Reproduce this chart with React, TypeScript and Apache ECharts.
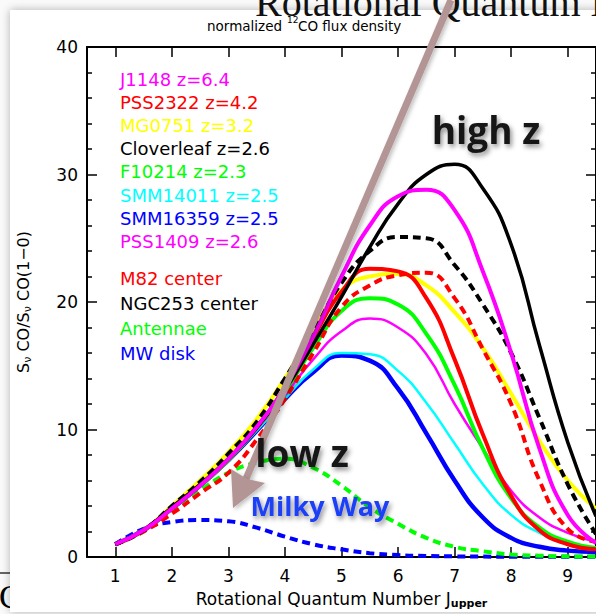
import React, { useEffect, useRef } from "react";
import * as echarts from "echarts";

// Rotational quantum number samples (J_upper)
const J = [1, 1.5, 2, 2.5, 3, 3.5, 4, 4.5, 5, 5.5, 6, 6.5, 7, 7.5, 8, 8.5, 9, 9.5];

// normalized CO flux density S_v CO / S_v CO(1-0)
const J1148 = [1, 2.1, 3.8, 5.6, 7.7, 10.2, 13.3, 17.3, 22.0, 26.0, 28.3, 28.8, 27.2, 22.4, 16.0, 8.5, 3.3, 1.1];
const PSS2322 = [1, 2.1, 3.8, 5.6, 7.7, 10.2, 13.3, 17.2, 20.8, 22.6, 22.4, 20.3, 15.5, 9.6, 4.8, 2.1, 1.0, 0.6];
const MG0751 = [1, 2.1, 4.0, 6.0, 8.2, 10.8, 14.0, 17.8, 20.9, 22.0, 22.2, 21.3, 19.2, 16.4, 12.8, 9.1, 6.0, 3.8];
const Cloverleaf = [1, 2.1, 3.9, 5.7, 7.7, 10.1, 13.1, 16.7, 20.4, 24.3, 27.7, 30.0, 30.8, 28.9, 24.5, 16.6, 9.0, 3.2];
const F10214 = [1, 2.1, 3.8, 5.6, 7.6, 10.1, 13.0, 16.4, 19.3, 20.3, 19.8, 17.5, 13.5, 8.5, 4.6, 2.3, 1.2, 0.7];
const SMM14011 = [1, 2.1, 3.8, 5.6, 7.6, 9.9, 12.4, 14.7, 16.0, 15.9, 14.6, 12.1, 8.9, 5.7, 3.3, 1.9, 1.1, 0.7];
const SMM16359 = [1, 2.1, 3.8, 5.6, 7.6, 9.9, 12.4, 14.5, 15.8, 15.4, 13.2, 9.7, 6.0, 3.1, 1.5, 0.8, 0.5, 0.4];
const PSS1409 = [1, 2.1, 3.8, 5.6, 7.6, 10.0, 12.7, 15.5, 17.7, 18.7, 18.0, 15.9, 12.0, 8.5, 5.2, 3.1, 1.9, 1.2];
const M82 = [1, 2.0, 3.4, 5.0, 6.6, 9.2, 12.4, 16.0, 19.6, 21.3, 22.1, 22.3, 20.3, 16.3, 12.0, 6.0, 2.2, 1.2];
const NGC253 = [1, 2.1, 4.0, 5.9, 8.1, 10.6, 14.0, 17.6, 21.5, 24.0, 25.1, 25.0, 22.9, 19.8, 16.0, 10.9, 5.7, 1.8];
const Antennae = [1, 2.0, 3.6, 5.2, 6.6, 7.4, 7.7, 7.0, 5.6, 3.9, 2.6, 1.5, 0.8, 0.45, 0.2, 0.1, 0.05, 0.03];
const MWdisk = [1, 2.2, 2.75, 2.9, 2.8, 2.3, 1.6, 1.0, 0.6, 0.3, 0.15, 0.08, 0.05, 0.03, 0.02, 0.01, 0.01, 0.01];

const xTicks = [1, 2, 3, 4, 5, 6, 7, 8, 9];

const highZLabels = [
  "J1148 z=6.4",
  "PSS2322 z=4.2",
  "MG0751 z=3.2",
  "Cloverleaf z=2.6",
  "F10214 z=2.3",
  "SMM14011 z=2.5",
  "SMM16359 z=2.5",
  "PSS1409 z=2.6",
];
const highZColors = ["#ff00ff", "#ff0000", "#ffff00", "#000000", "#00ff00", "#00ffff", "#0000ff", "#ff00ff"];
const lowZLabels = ["M82 center", "NGC253 center", "Antennae", "MW disk"];
const lowZColors = ["#ff0000", "#000000", "#00ff00", "#0000ff"];

const FONT = "DejaVu Sans";

function line(name: string, vals: number[], color: string, width: number, dashed: boolean) {
  return {
    type: "line",
    name,
    data: J.map((j, i) => [j, vals[i]]),
    smooth: true,
    symbol: "none",
    showSymbol: false,
    silent: true,
    lineStyle: { color, width, type: dashed ? [8, 5] : "solid", cap: "butt" },
  };
}

export default function App() {
  const ref = useRef<HTMLDivElement>(null);
  useEffect(() => {
    if (!ref.current) return;
    const chart = echarts.init(ref.current, undefined, { renderer: "svg" });

    const axisLine = { show: true, onZero: false, lineStyle: { color: "#000", width: 2 } };
    const tick = { show: true, inside: true, length: 10, lineStyle: { color: "#000", width: 1.5 } };

    const legendTexts: any[] = [];
    highZLabels.forEach((t, i) => {
      legendTexts.push({
        type: "text",
        z: 60,
        style: { text: t, x: 120, y: 79 + i * 23.2, fill: highZColors[i], font: `18px "${FONT}"`, verticalAlign: "middle" },
      });
    });
    lowZLabels.forEach((t, i) => {
      legendTexts.push({
        type: "text",
        z: 60,
        style: { text: t, x: 120, y: 278 + i * 25, fill: lowZColors[i], font: `18px "${FONT}"`, verticalAlign: "middle" },
      });
    });

    const shadowText = {
      textShadowColor: "rgba(0,0,0,0.45)",
      textShadowBlur: 5,
      textShadowOffsetX: 2,
      textShadowOffsetY: 3,
    };

    const option: any = {
      animation: false,
      backgroundColor: "#fafafa",
      grid: { left: 87, top: 47, width: 512, height: 512, containLabel: false },
      xAxis: [
        {
          type: "value",
          position: "bottom",
          min: 0.5,
          max: 9.5,
          axisLine,
          axisTick: { ...tick, customValues: xTicks },
          axisLabel: { customValues: xTicks, color: "#000", fontSize: 17, fontFamily: FONT, margin: 10 },
          splitLine: { show: false },
          name: "{a|Rotational Quantum Number J}{s|upper}",
          nameLocation: "middle",
          nameGap: 32,
          nameTextStyle: {
            rich: {
              a: { fontSize: 17, fontFamily: FONT, color: "#000", lineHeight: 20, verticalAlign: "middle" },
              s: { fontSize: 11, fontWeight: "bold", fontFamily: FONT, color: "#000", lineHeight: 11, verticalAlign: "bottom" },
            },
          },
        },
        {
          type: "value",
          position: "top",
          min: 0.5,
          max: 9.5,
          axisLine,
          axisTick: { ...tick, customValues: xTicks },
          axisLabel: { show: false },
          splitLine: { show: false },
        },
      ],
      yAxis: [
        {
          type: "value",
          position: "left",
          min: 0,
          max: 40,
          interval: 10,
          axisLine,
          axisTick: tick,
          minorTick: { show: true, splitNumber: 5, length: 5, lineStyle: { color: "#000", width: 1.5 } },
          axisLabel: { color: "#000", fontSize: 17, fontFamily: FONT, margin: 9 },
          splitLine: { show: false },
          minorSplitLine: { show: false },
          name: "{a|S}{s|ν}{a| CO/S}{s|ν}{a| CO(1−0)}",
          nameLocation: "middle",
          nameGap: 54,
          nameTextStyle: {
            rich: {
              a: { fontSize: 16, fontFamily: FONT, color: "#000", lineHeight: 20, verticalAlign: "middle" },
              s: { fontSize: 11, fontFamily: FONT, color: "#000", lineHeight: 11, verticalAlign: "bottom" },
            },
          },
        },
        {
          type: "value",
          position: "right",
          min: 0,
          max: 40,
          interval: 10,
          axisLine,
          axisTick: tick,
          minorTick: { show: true, splitNumber: 5, length: 5, lineStyle: { color: "#000", width: 1.5 } },
          axisLabel: { show: false },
          splitLine: { show: false },
        },
      ],
      series: [
        line("MW disk", MWdisk, "#0000ff", 4, true),
        line("Antennae", Antennae, "#00ff00", 4, true),
        line("SMM16359 z=2.5", SMM16359, "#0000ff", 4.5, false),
        line("SMM14011 z=2.5", SMM14011, "#00ffff", 2.5, false),
        line("PSS1409 z=2.6", PSS1409, "#ff00ff", 2.5, false),
        line("F10214 z=2.3", F10214, "#00ff00", 4, false),
        line("MG0751 z=3.2", MG0751, "#ffff00", 4, false),
        line("PSS2322 z=4.2", PSS2322, "#ff0000", 4, false),
        line("M82 center", M82, "#ff0000", 4, true),
        line("NGC253 center", NGC253, "#000000", 4, true),
        line("Cloverleaf z=2.6", Cloverleaf, "#000000", 3.5, false),
        line("J1148 z=6.4", J1148, "#ff00ff", 4, false),
      ],
      graphic: [
        // fragments of the slide behind the panel
        {
          type: "text",
          z: -30,
          style: { text: "C", x: -1, y: 596, fill: "#000", font: '34px "Liberation Serif"', verticalAlign: "middle" },
        },
        { type: "line", z: -30, shape: { x1: 0, y1: 573, x2: 12, y2: 573 }, style: { stroke: "#333", lineWidth: 1.5 } },
        {
          type: "rect",
          z: -20,
          shape: { x: 10, y: 10, width: 640, height: 602 },
          style: { fill: "#ffffff", shadowBlur: 8, shadowColor: "rgba(0,0,0,0.3)" },
        },
        {
          type: "text",
          z: 40,
          style: { text: "Rotational Quantum Number", x: 255, y: 2, fill: "#111", font: '40px "Liberation Serif"', verticalAlign: "middle" },
        },
        {
          type: "text",
          z: 40,
          style: { text: "normalized", x: 207, y: 26, fill: "#000", font: `13.5px "${FONT}"`, verticalAlign: "middle" },
        },
        {
          type: "text",
          z: 40,
          style: { text: "12", x: 287, y: 20, fill: "#000", font: `9px "${FONT}"`, verticalAlign: "middle" },
        },
        {
          type: "text",
          z: 40,
          style: { text: "CO flux density", x: 298, y: 26, fill: "#000", font: `13.5px "${FONT}"`, verticalAlign: "middle" },
        },
        ...legendTexts,
        // arrow
        {
          type: "line",
          z: 70,
          shape: { x1: 451, y1: 0, x2: 246, y2: 479 },
          style: { stroke: "#b39595", lineWidth: 7, shadowBlur: 4, shadowColor: "rgba(0,0,0,0.25)", shadowOffsetX: 2, shadowOffsetY: 2 },
        },
        {
          type: "polygon",
          z: 70,
          shape: { points: [[233, 508], [265, 483], [247, 479], [231, 469]] },
          style: { fill: "#b39595", shadowBlur: 4, shadowColor: "rgba(0,0,0,0.25)", shadowOffsetX: 2, shadowOffsetY: 2 },
        },
        {
          type: "text",
          z: 80,
          style: { text: "high z", x: 486, y: 129, textAlign: "center", verticalAlign: "middle", fill: "#151515", font: 'bold 37px "Open Sans"', ...shadowText },
        },
        {
          type: "text",
          z: 80,
          style: { text: "low z", x: 302, y: 452, textAlign: "center", verticalAlign: "middle", fill: "#151515", font: 'bold 37px "Open Sans"', ...shadowText },
        },
        {
          type: "text",
          z: 80,
          style: { text: "Milky Way", x: 320, y: 505, textAlign: "center", verticalAlign: "middle", fill: "#1f3ff5", font: 'bold 27px "Open Sans"', ...shadowText },
        },
      ],
    };
    chart.setOption(option);
    return () => chart.dispose();
  }, []);

  return <div ref={ref} style={{ position: "fixed", left: 0, top: 0, width: 596, height: 614 }} />;
}
